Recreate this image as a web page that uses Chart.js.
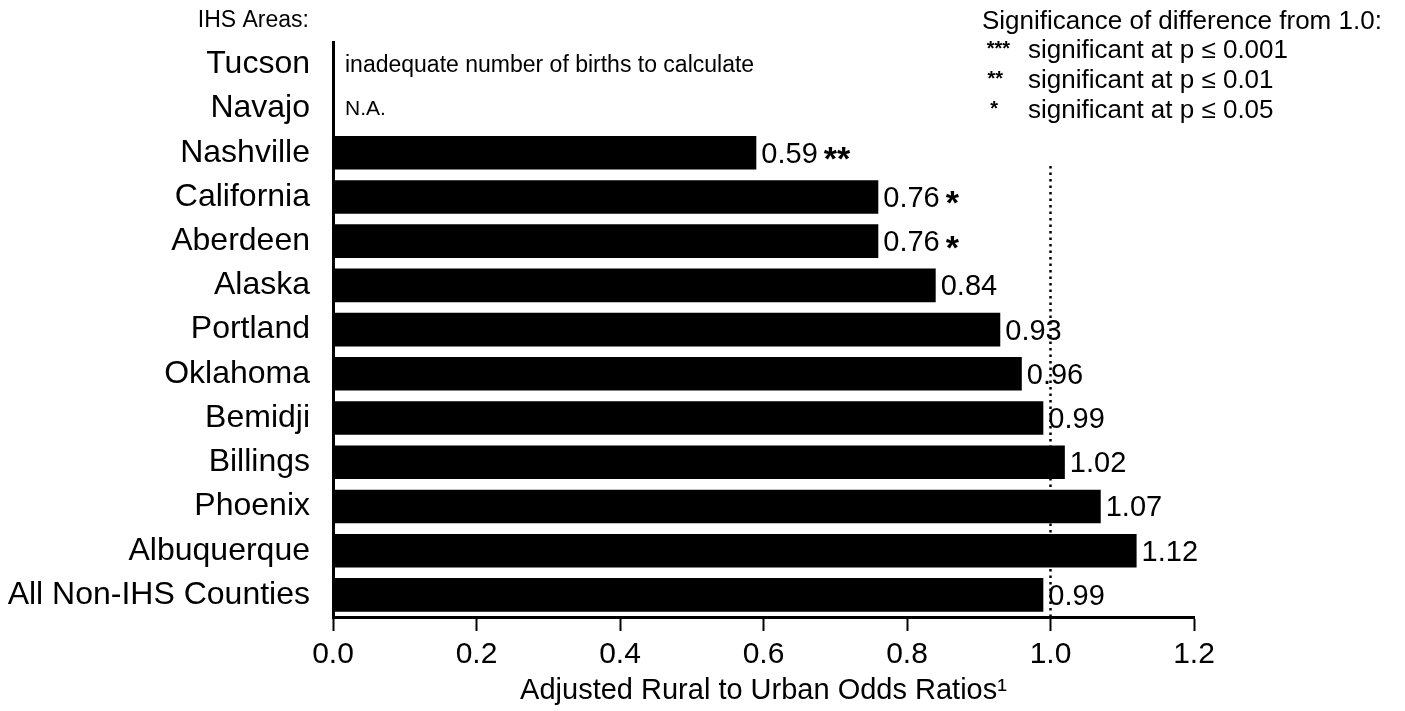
<!DOCTYPE html>
<html>
<head>
<meta charset="utf-8">
<script src="https://cdn.jsdelivr.net/npm/chart.js@4.4.1/dist/chart.umd.min.js"></script>
<style>
  html, body { margin: 0; padding: 0; background: #fff; }
  #wrap { position: relative; width: 1405px; height: 711px; }
</style>
</head>
<body>
<div id="wrap"><canvas id="chart"></canvas></div>
<script>
"use strict";

// ── Data ──
var areas = ["Tucson", "Navajo", "Nashville", "California", "Aberdeen", "Alaska",
  "Portland", "Oklahoma", "Bemidji", "Billings", "Phoenix", "Albuquerque", "All Non-IHS Counties"];
var oddsRatios = [null, null, 0.59, 0.76, 0.76, 0.84, 0.93, 0.96, 0.99, 1.02, 1.07, 1.12, 0.99];
var sigStars = ["", "", "**", "*", "*", "", "", "", "", "", "", "", ""];
var rowNotes = ["inadequate number of births to calculate", "N.A.", "", "", "", "", "", "", "", "", "", "", ""];
var xTicks = [0, 0.2, 0.4, 0.6, 0.8, 1.0, 1.2];
var refValue = 1.0;

var legendTitle = "Significance of difference from 1.0:";
var legendStars = ["***", "**", "*"];
var legendText = ["significant at p \u2264 0.001", "significant at p \u2264 0.01", "significant at p \u2264 0.05"];

var FONT = "'Liberation Sans', Arial, Helvetica, sans-serif";

var overlay = {
  id: "overlay",
  beforeDatasetsDraw: function(chart) {
    // dotted reference line at 1.0, sits behind the bars
    var x = chart.scales.x.getPixelForValue(refValue);
    var y = chart.scales.y;
    var ctx = chart.ctx;
    ctx.save();
    ctx.strokeStyle = "#000";
    ctx.lineWidth = 2.5;
    ctx.setLineDash([2.5, 4]);
    ctx.beginPath();
    ctx.moveTo(x, y.getPixelForValue(2.3));
    ctx.lineTo(x, chart.chartArea.bottom);
    ctx.stroke();
    ctx.restore();
  },
  afterDatasetsDraw: function(chart) {
    var ctx = chart.ctx;
    var meta = chart.getDatasetMeta(0);
    var x0 = chart.scales.x.getPixelForValue(0);
    ctx.save();
    ctx.fillStyle = "#000";
    ctx.textBaseline = "middle";
    ctx.textAlign = "left";
    meta.data.forEach(function(bar, i) {
      var y = chart.scales.y.getPixelForValue(i);
      if (oddsRatios[i] == null) {
        ctx.font = (i === 0 ? "23px " : "21px ") + FONT;
        ctx.fillText(rowNotes[i], x0 + 12, y + 1);
        return;
      }
      var txt = oddsRatios[i].toFixed(2);
      ctx.font = "29px " + FONT;
      var tx = bar.x + 5;
      ctx.fillText(txt, tx, y + 2);
      if (sigStars[i]) {
        var w = ctx.measureText(txt).width;
        ctx.font = "bold 34px " + FONT;
        ctx.fillText(sigStars[i], tx + w + 6, y + 8);
      }
    });
    ctx.restore();
  },
  afterDraw: function(chart) {
    var ctx = chart.ctx;
    ctx.save();
    ctx.fillStyle = "#000";
    ctx.textBaseline = "middle";
    // axis heading
    ctx.font = "23px " + FONT;
    ctx.textAlign = "right";
    ctx.fillText("IHS Areas:", chart.scales.y.right - 24, 21);
    // significance key
    ctx.font = "26px " + FONT;
    ctx.textAlign = "left";
    ctx.fillText(legendTitle, 982, 22);
    var starRight = [1010, 1003, 998];
    for (var k = 0; k < legendText.length; k++) {
      var ly = 51 + k * 30;
      ctx.textAlign = "right";
      ctx.font = "bold 20px " + FONT;
      ctx.fillText(legendStars[k], starRight[k], ly - 2);
      ctx.textAlign = "left";
      ctx.font = "26px " + FONT;
      ctx.fillText(legendText[k], 1028, ly);
    }
    ctx.restore();
  }
};

new Chart(document.getElementById("chart").getContext("2d"), {
  type: "bar",
  data: {
    labels: areas,
    datasets: [{
      data: oddsRatios,
      backgroundColor: "#000",
      borderWidth: 0,
      categoryPercentage: 1,
      barPercentage: 0.76
    }]
  },
  options: {
    indexAxis: "y",
    responsive: true,
    maintainAspectRatio: false,
    animation: false,
    layout: { padding: { top: 42, right: 211, left: 0, bottom: 0 } },
    plugins: { legend: { display: false }, tooltip: { enabled: false } },
    scales: {
      x: {
        min: 0,
        max: 1.2,
        afterFit: function(s) { s.height = 94; },
        afterBuildTicks: function(s) { s.ticks = xTicks.map(function(v) { return { value: v }; }); },
        grid: { drawOnChartArea: false, drawTicks: true, tickLength: 14, tickWidth: 2, tickColor: "#000" },
        border: { display: true, width: 3, color: "#000" },
        ticks: {
          color: "#000",
          padding: 6,
          font: { family: FONT, size: 30 },
          callback: function(v) { return Number(v).toFixed(1); }
        },
        title: {
          display: true,
          text: "Adjusted Rural to Urban Odds Ratios\u00b9",
          color: "#000",
          font: { family: FONT, size: 29 },
          padding: { top: 0, bottom: 3 }
        }
      },
      y: {
        afterFit: function(s) { s.width = 333; },
        grid: { display: false, drawTicks: false },
        border: { display: true, width: 3, color: "#000" },
        ticks: {
          color: "#000",
          padding: 23,
          font: { family: FONT, size: 32 }
        }
      }
    }
  },
  plugins: [overlay]
});
</script>
</body>
</html>
